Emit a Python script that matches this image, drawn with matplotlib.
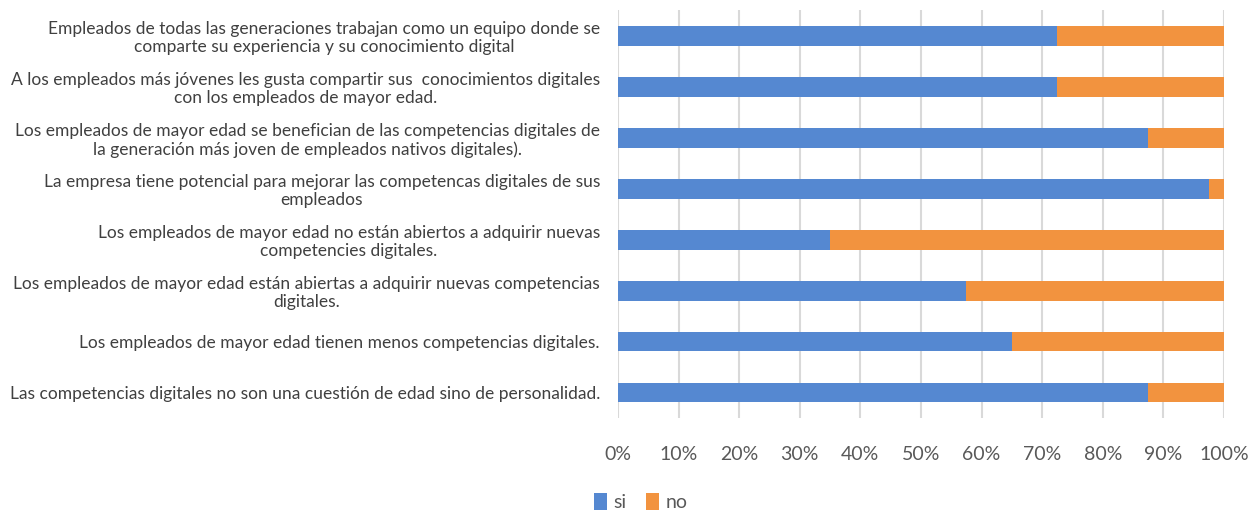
import numpy as np
import matplotlib.pyplot as plt
from matplotlib.ticker import PercentFormatter

plt.rcParams["font.family"] = ["Lato", "DejaVu Sans"]

BLUE = "#5588d1"
ORANGE = "#f2933f"

categories = [
    "Empleados de todas las generaciones trabajan como un equipo donde se\ncomparte su experiencia y su conocimiento digital",
    "A los empleados más jóvenes les gusta compartir sus  conocimientos digitales\ncon los empleados de mayor edad.",
    "Los empleados de mayor edad se benefician de las competencias digitales de\nla generación más joven de empleados nativos digitales).",
    "La empresa tiene potencial para mejorar las competencas digitales de sus\nempleados",
    "Los empleados de mayor edad no están abiertos a adquirir nuevas\ncompetencies digitales.",
    "Los empleados de mayor edad están abiertas a adquirir nuevas competencias\ndigitales.",
    "Los empleados de mayor edad tienen menos competencias digitales.",
    "Las competencias digitales no son una cuestión de edad sino de personalidad.",
]
si = [72.5, 72.5, 87.5, 97.5, 35.0, 57.5, 65.0, 87.5]
no = [27.5, 27.5, 12.5, 2.5, 65.0, 42.5, 35.0, 12.5]

fig = plt.figure(figsize=(12.56, 5.16), dpi=100)
ax = fig.add_axes([0.492, 0.19, 0.4825, 0.79])

y = np.arange(len(categories))[::-1]
ax.barh(y, si, height=0.39, color=BLUE, label="si", zorder=3)
ax.barh(y, no, left=si, height=0.39, color=ORANGE, label="no", zorder=3)

ax.set_xlim(0, 100)
ax.set_ylim(-0.5, len(categories) - 0.5)
ax.set_xticks(np.arange(0, 101, 10))
ax.xaxis.set_major_formatter(PercentFormatter(decimals=0))
ax.set_yticks(y)
ax.set_yticklabels(categories, multialignment="center", linespacing=1.15)
ax.tick_params(axis="x", length=0, pad=20, labelsize=14, labelcolor="#595959")
ax.tick_params(axis="y", length=0, pad=13, labelsize=12.5, labelcolor="#404040")
ax.grid(axis="x", color="#d9d9d9", lw=1.5, zorder=0)
for s in ax.spines.values():
    s.set_visible(False)

fig.legend(loc="lower center", bbox_to_anchor=(0.51, -0.025), ncol=2, frameon=False,
           fontsize=14, handlelength=0.7, handleheight=1.0, handletextpad=0.3,
           columnspacing=1.0, labelcolor="#595959")

fig.savefig("out.png", dpi=100)
